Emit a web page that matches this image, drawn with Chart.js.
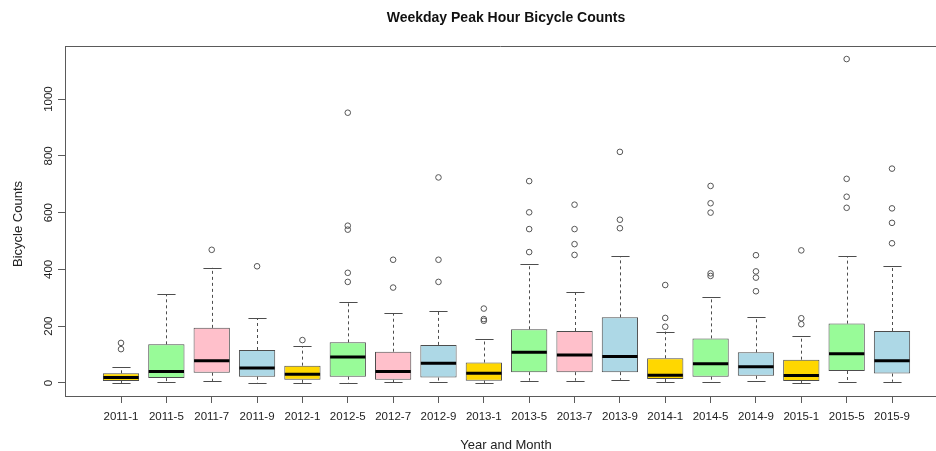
<!DOCTYPE html>
<html>
<head>
<meta charset="utf-8">
<script src="https://cdn.jsdelivr.net/npm/chart.js@4/dist/chart.umd.min.js"></script>
<style>
  html, body { margin: 0; padding: 0; background: #ffffff; }
  #wrap { width: 936px; height: 451px; position: relative; }
</style>
</head>
<body>
<div id="wrap"><canvas id="c" width="936" height="451"></canvas></div>
<script>
// ---- Data ----
const categories = ['2011-1','2011-5','2011-7','2011-9','2012-1','2012-5','2012-7','2012-9','2013-1','2013-5','2013-7','2013-9','2014-1','2014-5','2014-9','2015-1','2015-5','2015-9'];
const lowerWhisker = [0, 5, 7, 0, 0, 0, 2, 5, 0, 8, 8, 11, 2, 2, 6, 0, 4, 4];
const q1Values     = [7, 17, 36, 22, 11, 22, 11, 19, 8, 38, 38, 38, 14, 22, 25, 7, 42, 33];
const medianValues = [19, 40, 78, 53, 31, 91, 40, 69, 34, 108, 98, 93, 27, 68, 57, 26, 103, 78];
const q3Values     = [34, 136, 194, 116, 61, 143, 110, 134, 72, 189, 183, 231, 87, 157, 108, 82, 209, 183];
const upperWhisker = [56, 312, 406, 228, 130, 285, 246, 255, 156, 419, 319, 446, 181, 304, 231, 164, 447, 411];
const outlierValues = [
  [141, 119], [], [469], [411], [151],
  [952, 554, 540, 388, 356], [434, 336], [724, 434, 356],
  [262, 225, 219], [711, 601, 542, 461], [628, 542, 489, 451],
  [814, 575, 545], [345, 229, 198], [694, 633, 600, 386, 377],
  [450, 393, 371, 323], [467, 228, 207], [1141, 719, 656, 617],
  [755, 615, 564, 492]
];
const yTickValues = [0, 200, 400, 600, 800, 1000];
const chartTitle = 'Weekday Peak Hour Bicycle Counts';
const xTitle = 'Year and Month';
const yTitle = 'Bicycle Counts';

// ---- Styles ----
const monthColors = { '1': '#FFD700', '5': '#98FB98', '7': '#FFC0CB', '9': '#ADD8E6' };
const boxColors = categories.map(c => monthColors[c.split('-')[1]]);
const lineGray = '#4d4d4d';
const frameGray = '#5a5a5a';
const textColor = '#222222';
const FONT = '"Liberation Sans", Arial, sans-serif';

const positions = categories.map((c, i) => i + 1);

const boxData = positions.map((p, i) => ({ x: p, y: [q1Values[i], q3Values[i]] }));
const outlierData = [];
outlierValues.forEach((arr, i) => arr.forEach(v => outlierData.push({ x: positions[i], y: v })));

const boxPlugin = {
  id: 'boxParts',
  beforeDatasetsDraw(chart) {
    const ctx = chart.ctx;
    const xs = chart.scales.x, ys = chart.scales.y;
    const meta = chart.getDatasetMeta(0);
    ctx.save();
    ctx.strokeStyle = lineGray;
    ctx.lineWidth = 1;
    positions.forEach((p, i) => {
      const x = Math.round(xs.getPixelForValue(p)) + 0.5;
      const w = meta.data[i] ? meta.data[i].width : 36;
      const half = w / 4;
      const yUp = ys.getPixelForValue(upperWhisker[i]);
      const yQ3 = ys.getPixelForValue(q3Values[i]);
      const yQ1 = ys.getPixelForValue(q1Values[i]);
      const yLo = ys.getPixelForValue(lowerWhisker[i]);
      ctx.setLineDash([3, 3]);
      ctx.beginPath();
      ctx.moveTo(x, yQ3); ctx.lineTo(x, yUp);
      ctx.moveTo(x, yQ1); ctx.lineTo(x, yLo);
      ctx.stroke();
      ctx.setLineDash([]);
      ctx.beginPath();
      ctx.moveTo(x - half, Math.round(yUp) + 0.5); ctx.lineTo(x + half, Math.round(yUp) + 0.5);
      ctx.moveTo(x - half, Math.round(yLo) + 0.5); ctx.lineTo(x + half, Math.round(yLo) + 0.5);
      ctx.stroke();
    });
    ctx.restore();
  },
  afterDatasetDraw(chart, args) {
    if (args.index !== 0) return;
    const ctx = chart.ctx;
    const xs = chart.scales.x, ys = chart.scales.y;
    const meta = chart.getDatasetMeta(0);
    ctx.save();
    ctx.strokeStyle = '#000000';
    ctx.lineWidth = 3;
    positions.forEach((p, i) => {
      const x = xs.getPixelForValue(p);
      const w = meta.data[i] ? meta.data[i].width : 36;
      const y = ys.getPixelForValue(medianValues[i]);
      ctx.beginPath();
      ctx.moveTo(x - w / 2 + 0.5, y);
      ctx.lineTo(x + w / 2 - 0.5, y);
      ctx.stroke();
    });
    ctx.restore();
  },
  afterDraw(chart) {
    const ctx = chart.ctx;
    const a = chart.chartArea;
    ctx.save();
    // top frame line
    ctx.strokeStyle = frameGray;
    ctx.lineWidth = 1;
    ctx.beginPath();
    ctx.moveTo(a.left, Math.round(a.top) + 0.5);
    ctx.lineTo(a.right, Math.round(a.top) + 0.5);
    ctx.stroke();
    // titles
    ctx.fillStyle = '#111111';
    ctx.textAlign = 'center';
    ctx.textBaseline = 'middle';
    ctx.font = 'bold 14px ' + FONT;
    ctx.fillText(chartTitle, 506, 18);
    ctx.fillStyle = textColor;
    ctx.font = '13px ' + FONT;
    ctx.fillText(xTitle, 506, 445);
    ctx.translate(18, 224);
    ctx.rotate(-Math.PI / 2);
    ctx.fillText(yTitle, 0, 0);
    ctx.restore();
  }
};

new Chart(document.getElementById('c'), {
  type: 'bar',
  data: {
    datasets: [
      {
        type: 'bar',
        label: 'box',
        data: boxData,
        backgroundColor: boxColors,
        borderColor: lineGray,
        borderWidth: 1,
        borderSkipped: false,
        categoryPercentage: 1.0,
        barPercentage: 0.8,
        order: 2
      },
      {
        type: 'scatter',
        label: 'outliers',
        data: outlierData,
        pointStyle: 'circle',
        pointRadius: 2.8,
        pointBorderWidth: 1,
        pointBorderColor: '#555555',
        pointBackgroundColor: 'rgba(255,255,255,0)',
        order: 1
      }
    ]
  },
  options: {
    responsive: false,
    animation: false,
    events: [],
    layout: { autoPadding: false, padding: { top: 46, left: 0, right: 0, bottom: 0 } },
    plugins: {
      legend: { display: false },
      tooltip: { enabled: false },
      title: { display: false }
    },
    scales: {
      x: {
        type: 'linear',
        min: -0.235,
        max: 18.97,
        offset: false,
        afterBuildTicks(scale) { scale.ticks = positions.map(v => ({ value: v })); },
        afterFit(scale) { scale.height = 55; scale.paddingLeft = 0; scale.paddingRight = 0; },
        grid: { display: true, drawOnChartArea: false, drawTicks: true, tickLength: 7, tickColor: frameGray, offset: false },
        border: { display: true, color: frameGray, width: 1 },
        ticks: {
          autoSkip: false,
          maxRotation: 0,
          minRotation: 0,
          padding: 7,
          color: textColor,
          font: { family: FONT, size: 11.5 },
          callback(value) { const i = positions.indexOf(value); return i >= 0 ? categories[i] : ''; }
        }
      },
      y: {
        type: 'linear',
        min: -46,
        max: 1187,
        afterBuildTicks(scale) { scale.ticks = yTickValues.map(v => ({ value: v })); },
        afterFit(scale) { scale.width = 65; scale.paddingTop = 0; scale.paddingBottom = 0; },
        grid: { display: true, drawOnChartArea: false, drawTicks: true, tickLength: 7, tickColor: frameGray },
        border: { display: true, color: frameGray, width: 1 },
        ticks: {
          minRotation: 90,
          maxRotation: 90,
          crossAlign: 'center',
          padding: -4,
          color: textColor,
          font: { family: FONT, size: 11.5 },
          callback(value) { return String(value); }
        }
      }
    }
  },
  plugins: [boxPlugin]
});
</script>
</body>
</html>
